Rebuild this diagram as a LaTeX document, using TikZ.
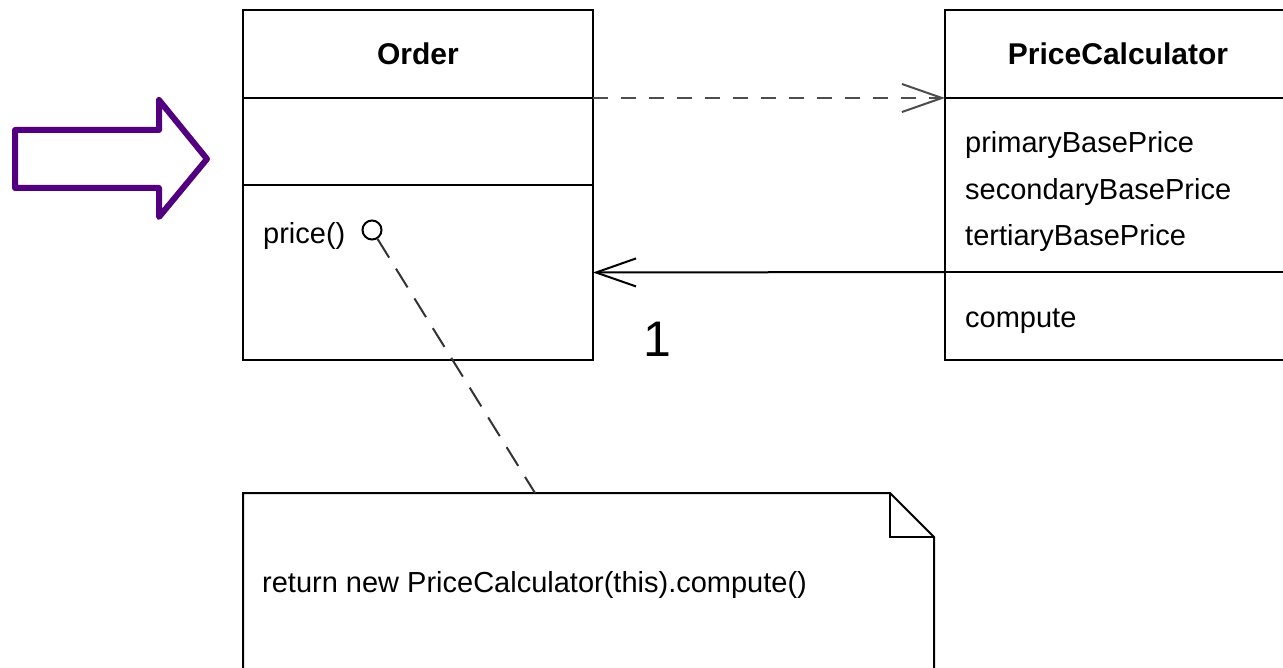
\documentclass[tikz,border=0pt]{standalone}
\usepackage{fontspec}
\setmainfont{Liberation Sans}
\usetikzlibrary{positioning,arrows.meta}
\definecolor{hintpurple}{RGB}{82,0,128}
\begin{document}
\begin{tikzpicture}
    [x=1pt,y=-1pt,
     part/.style={rectangle,draw,line width=2pt,outer sep=0pt,inner sep=0pt},
     title/.style={font=\fontsize{30}{36}\selectfont\bfseries},
     member/.style={anchor=base west,inner sep=0pt,font=\fontsize{29}{35}\selectfont},
     link/.style={line width=2pt,-{Straight Barb[length=40pt,width=28pt,line width=2pt]}}]
    \useasboundingbox (0,0) rectangle (1283,668);
    \clip (0,0) rectangle (1283,668);
    % Order class
    \node[part,title,minimum width=350pt,minimum height=88pt,anchor=north west](orderName) at (243,10) {Order};
    \node[part,minimum width=350pt,minimum height=87pt](orderAttr)[below=0pt of orderName] {};
    \node[part,minimum width=350pt,minimum height=175pt](orderOps)[below=0pt of orderAttr] {};
    \node[member](price) at (263,244) {price()};
    \node[circle,draw,line width=2pt,minimum size=19pt,inner sep=0pt](port) at (372,230) {};
    % PriceCalculator class
    \node[part,title,minimum width=346pt,minimum height=88pt,anchor=north west](calcName) at (945,10) {PriceCalculator};
    \node[part,minimum width=346pt,minimum height=174pt](calcAttr)[below=0pt of calcName] {};
    \node[part,minimum width=346pt,minimum height=88pt](calcOps)[below=0pt of calcAttr] {};
    \node[member](primary) at (965,153) {primaryBasePrice};
    \node[member](secondary) at (965,200) {secondaryBasePrice};
    \node[member](tertiary) at (965,246) {tertiaryBasePrice};
    \node[member](compute) at (965,328) {compute};
    % note
    \node[rectangle,minimum width=691pt,minimum height=200pt,anchor=north west,outer sep=0pt](note) at (243,493) {};
    \draw[line width=2pt] (note.south west) -- (note.north west) -- ([xshift=-44pt]note.north east)
        -- ([yshift=-44pt]note.north east) -- (note.south east);
    \draw[line width=2pt] ([xshift=-44pt]note.north east) -- ([xshift=-44pt,yshift=-44pt]note.north east)
        -- ([yshift=-44pt]note.north east);
    \node[member](body) at (262,592) {return new PriceCalculator(this).compute()};
    \coordinate (noteTop) at (535,493);
    % connectors
    \draw[link,black!70,dash pattern=on 15pt off 13pt](orderAttr.north east) -- (calcAttr.north west);
    \draw[link](calcOps.north west) -- (orderOps.east);
    \node[font=\fontsize{50}{50}\selectfont,inner sep=0pt](mult) at (657,339) {1};
    \draw[line width=2pt,black!80,dash pattern=on 22pt off 13pt](port) -- (noteTop);
    % hint arrow
    \draw[hintpurple,line width=6pt,line join=round](15,130) -- (159,130) -- (159,100) -- (207,159)
        -- (159,217) -- (159,188) -- (15,188) -- cycle;
\end{tikzpicture}
\end{document}
